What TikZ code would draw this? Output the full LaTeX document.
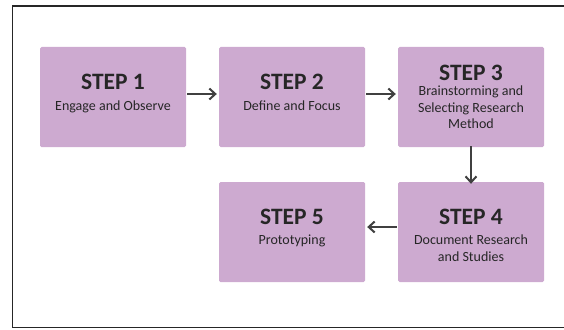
\documentclass[tikz,border=0pt]{standalone}
\usepackage{fontspec}
\setmainfont{Carlito}
\usetikzlibrary{arrows.meta}
\definecolor{boxfill}{HTML}{CDAAD0}
\definecolor{ink}{HTML}{262626}
\definecolor{arrowcol}{HTML}{404040}
\begin{document}
\begin{tikzpicture}[x=1pt,y=-1pt,
  stepbox/.style={draw=none,fill=boxfill,rounded corners=1.5pt,minimum width=146pt,minimum height=100pt,inner sep=0pt},
  steptitle/.style={font=\fontsize{23.5}{26}\selectfont\bfseries,text=ink,inner sep=0pt},
  stepsub/.style={font=\fontsize{14}{16.7}\selectfont,text=ink,align=center,inner sep=0pt,anchor=north},
  flow/.style={draw=arrowcol,line width=2pt,-{Straight Barb[length=6pt,width=11pt]}}]
\useasboundingbox (0,0) rectangle (564,329);
\draw[line width=1.5pt,draw=ink] (566,6) -- (12.5,6) -- (12.5,327.5) -- (566,327.5);
% boxes
\node[stepbox] (b1) at (113,97) {};
\node[stepbox] (b2) at (292,97) {};
\node[stepbox] (b3) at (471,97) {};
\node[stepbox] (b4) at (471,232) {};
\node[stepbox] (b5) at (292,232) {};
% titles
\node[steptitle] (t1) at (113,82) {STEP 1};
\node[steptitle] (t2) at (292,82) {STEP 2};
\node[steptitle] (t3) at (471,73) {STEP 3};
\node[steptitle] (t4) at (471,217) {STEP 4};
\node[steptitle] (t5) at (292,217) {STEP 5};
% subtitles
\node[stepsub] (s1) at (113,100.5) {Engage and Observe};
\node[stepsub] (s2) at (292,100.5) {Define and Focus};
\node[stepsub] (s3) at (471,85.5) {Brainstorming and\\Selecting Research\\Method};
\node[stepsub] (s4) at (471,234.5) {Document Research\\and Studies};
\node[stepsub] (s5) at (292,234.5) {Prototyping};
% arrows
\coordinate (a1s) at ([xshift=1pt,yshift=3pt]b1.east);
\coordinate (a1e) at ([xshift=-2pt,yshift=3pt]b2.west);
\coordinate (a2s) at ([xshift=1pt,yshift=3pt]b2.east);
\coordinate (a2e) at ([xshift=-2pt,yshift=3pt]b3.west);
\coordinate (a3s) at ([yshift=1pt]b3.south);
\coordinate (a3e) at ([yshift=-2pt]b4.north);
\coordinate (a4s) at ([xshift=-1pt,yshift=5pt]b4.west);
\coordinate (a4e) at ([xshift=2pt,yshift=5pt]b5.east);
\draw[flow] (a1s) -- (a1e);
\draw[flow] (a2s) -- (a2e);
\draw[flow] (a3s) -- (a3e);
\draw[flow] (a4s) -- (a4e);
\end{tikzpicture}
\end{document}
